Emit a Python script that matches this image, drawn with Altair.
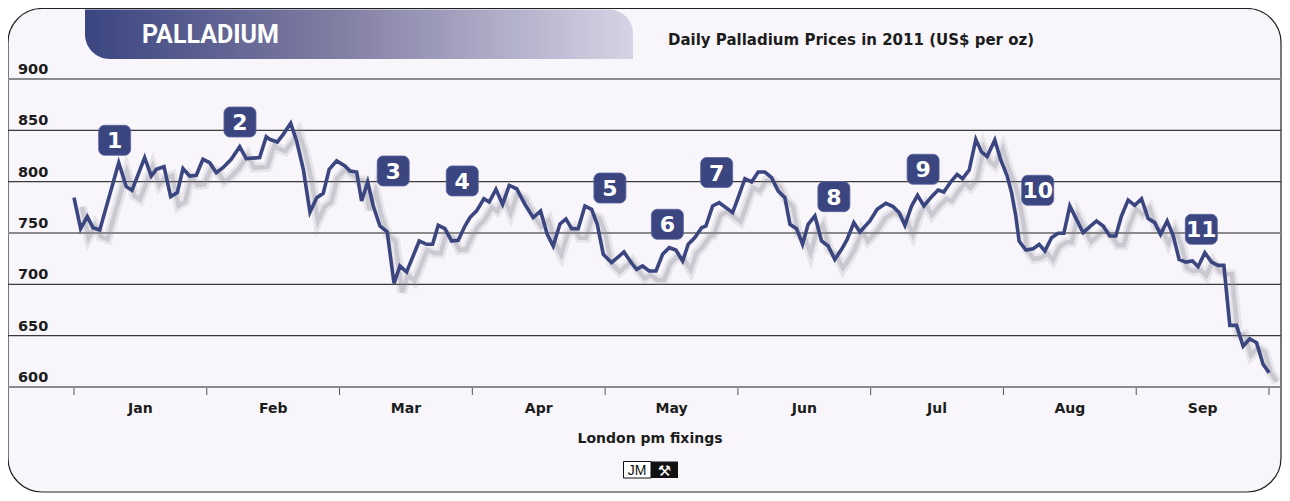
import altair as alt
import pandas as pd

# ---------------- data ----------------
month_names = ["Jan", "Feb", "Mar", "Apr", "May", "Jun", "Jul", "Aug", "Sep"]
month_edges = [0, 1, 2, 3, 4, 5, 6, 7, 8, 9]
month_mids = [0.5, 1.5, 2.5, 3.5, 4.5, 5.5, 6.5, 7.5, 8.5]
y_ticks = [600, 650, 700, 750, 800, 850, 900]
y_major = [600, 750, 900]
y_minor = [650, 700, 800, 850]

# position along the axis in months (0 = start of Jan, 9 = end of Sep)
pos = [0.000, 0.050, 0.100, 0.143, 0.194, 0.337, 0.394, 0.437, 0.532, 0.582,
       0.620, 0.678, 0.728, 0.778, 0.821, 0.871, 0.921, 0.971, 1.022, 1.072,
       1.122, 1.184, 1.248, 1.297, 1.398, 1.448,
       1.476, 1.531, 1.576, 1.632, 1.677, 1.727, 1.777, 1.828, 1.877, 1.922,
       1.978, 2.041, 2.078, 2.129, 2.166, 2.212, 2.254, 2.304, 2.359, 2.410,
       2.455, 2.505, 2.600, 2.656, 2.701, 2.743, 2.794, 2.844, 2.894, 2.944,
       2.982, 3.032, 3.087, 3.127, 3.178, 3.228, 3.278, 3.334, 3.396, 3.459,
       3.514, 3.564, 3.609, 3.660, 3.705, 3.748, 3.797, 3.848, 3.898, 3.941,
       3.986, 4.049, 4.142, 4.200, 4.237, 4.282, 4.332, 4.383, 4.433, 4.483,
       4.533, 4.584, 4.626, 4.676, 4.727, 4.759, 4.810, 4.859, 4.910, 4.960,
       5.002, 5.053, 5.103, 5.153, 5.203, 5.254, 5.303, 5.354, 5.392, 5.442,
       5.487, 5.529, 5.580, 5.630, 5.680, 5.730, 5.781, 5.823, 5.873, 5.919,
       5.994, 6.049, 6.114, 6.169, 6.215, 6.258, 6.308, 6.353, 6.401, 6.459,
       6.508, 6.551, 6.602, 6.651, 6.692, 6.742, 6.792, 6.835, 6.877, 6.935,
       6.978, 7.028, 7.061, 7.093, 7.118, 7.169, 7.224, 7.269, 7.312, 7.362,
       7.412, 7.455,
       7.500, 7.550, 7.600, 7.651, 7.701, 7.751, 7.801, 7.846, 7.889, 7.939,
       7.989, 8.040, 8.090, 8.140, 8.183, 8.233, 8.278, 8.323, 8.373, 8.424,
       8.466, 8.517, 8.567, 8.617, 8.660, 8.705, 8.755, 8.805, 8.855, 8.906,
       8.956, 9.001]

price = [784.4, 754.2, 765.9, 755.2, 752.9, 818.5, 795.1, 791.6, 823.4, 805.5,
         812.0, 814.6, 785.4, 789.3, 812.7, 805.5, 806.2, 821.8, 818.5, 808.8,
         813.6, 821.8, 834.1, 822.4, 823.4, 843.8,
         841.2, 838.6, 846.1, 856.8, 839.6, 812.0, 770.4, 784.4, 788.6, 812.0,
         820.2, 815.3, 810.4, 809.4, 781.2, 799.7, 776.3, 756.8, 751.0, 701.0,
         717.9, 712.0, 742.2, 739.0, 739.0, 757.5, 754.3, 742.2, 742.9, 756.8,
         765.0, 771.6, 783.4, 780.2, 792.5, 777.9, 796.4, 793.1, 777.9, 765.0,
         771.4, 748.7, 737.3, 758.8, 763.7, 754.2, 754.2, 776.3, 773.1, 758.5,
         729.2, 721.1, 731.5, 720.5, 714.6, 717.9, 713.0, 713.0, 729.2, 735.7,
         733.4, 722.7, 739.0, 745.5, 755.2, 756.8, 776.3, 779.5, 774.7, 769.8,
         784.4, 802.9, 799.7, 809.4, 809.4, 803.9, 790.9, 784.4, 758.4, 754.2,
         739.0, 758.4, 766.6, 742.2, 737.3, 724.3, 734.1, 743.8, 760.1, 751.0,
         761.7, 773.1, 778.9, 775.7, 769.8, 757.5, 776.3, 786.7, 776.3, 785.4,
         791.9, 789.9, 799.7, 807.1, 802.9, 811.3, 841.2, 828.9, 824.4, 840.6,
         821.8, 805.5, 789.3, 766.6, 742.2, 733.4, 734.7, 738.9, 732.5, 745.5,
         749.7, 749.7,
         776.3, 763.3, 750.3, 756.2, 761.7, 756.8, 747.1, 747.1, 766.6, 782.1,
         776.9, 783.4, 764.0, 760.1, 748.7, 761.7, 747.7, 724.3, 721.7, 722.7,
         717.2, 730.8, 721.7, 718.5, 718.5, 660.0, 660.0, 639.8, 647.0, 643.1,
         622.0, 613.9]

badge_labels = ["1", "2", "3", "4", "5", "6", "7", "8", "9", "10", "11"]
badge_pos = [0.306, 1.250, 2.404, 2.924, 4.036, 4.469, 4.840, 5.723, 6.395, 7.258, 8.490]
badge_price = [840.3, 858.1, 810.4, 800.7, 793.8, 758.5, 808.9, 785.4, 812.1, 791.6, 753.6]

assert len(pos) == len(price)

# ---------------- layout ----------------
W, H = 1274, 485
xs = alt.Scale(domain=[0, 9], range=[66, 1261])
ys = alt.Scale(domain=[600, 900], range=[379, 71])
NAVY = "#3b4680"
FONT = "DejaVu Sans"

one = pd.DataFrame({"a": [0]})
df = pd.DataFrame({"m": pos, "p": price})
badges = pd.DataFrame({"bx": badge_pos, "by": badge_price, "t": badge_labels})

frame = alt.Chart(one).mark_rect(
    fill="#f8f6fa", stroke="#222222", strokeWidth=1.2, cornerRadius=34
).encode(x=alt.value(0), x2=alt.value(1273), y=alt.value(0.5), y2=alt.value(484))

banner = alt.Chart(one).mark_rect(
    fill=alt.Gradient(
        gradient="linear",
        stops=[alt.GradientStop(color="#3a4580", offset=0),
               alt.GradientStop(color="#7f7ca2", offset=0.45),
               alt.GradientStop(color="#d5d4e5", offset=1)],
        x1=0, x2=1, y1=0, y2=0),
    cornerRadiusBottomLeft=26, cornerRadiusTopRight=24
).encode(x=alt.value(77), x2=alt.value(625), y=alt.value(1.5), y2=alt.value(51))

title = alt.Chart(one).mark_text(
    text="PALLADIUM", font="Roboto", fontWeight="bold", fontSize=25,
    color="white", align="left", baseline="middle"
).encode(x=alt.value(134), y=alt.value(27))

subtitle = alt.Chart(one).mark_text(
    text="Daily Palladium Prices in 2011 (US$ per oz)", font=FONT,
    fontWeight="bold", fontSize=15, color="#1c1c1c", align="left",
    baseline="middle"
).encode(x=alt.value(660), y=alt.value(32))

grid_minor = alt.Chart(pd.DataFrame({"v": y_minor})).mark_rule(
    color="#3a3a3a", strokeWidth=1.2
).encode(y=alt.Y("v:Q", scale=ys), x=alt.value(0), x2=alt.value(1273))

grid_major = alt.Chart(pd.DataFrame({"v": y_major})).mark_rule(
    color="#8a8a8a", strokeWidth=2.2
).encode(y=alt.Y("v:Q", scale=ys), x=alt.value(0), x2=alt.value(1273))

ylabels = alt.Chart(pd.DataFrame({"v": y_ticks})).mark_text(
    font=FONT, fontWeight="bold", fontSize=14.5, color="#1c1c1c",
    align="left", baseline="alphabetic", dy=-5
).encode(y=alt.Y("v:Q", scale=ys), x=alt.value(10), text=alt.Text("v:Q"))

ticks = alt.Chart(pd.DataFrame({"e": month_edges})).mark_rule(
    color="#555555", strokeWidth=1
).encode(x=alt.X("e:Q", scale=xs), y=alt.value(380), y2=alt.value(387))

mlabels = alt.Chart(pd.DataFrame({"c": month_mids, "n": month_names})).mark_text(
    font=FONT, fontWeight="bold", fontSize=14, color="#1c1c1c", baseline="middle"
).encode(x=alt.X("c:Q", scale=xs), y=alt.value(401), text="n:N")

xtitle = alt.Chart(one).mark_text(
    text="London pm fixings", font=FONT, fontWeight="bold", fontSize=14,
    color="#1c1c1c", baseline="middle"
).encode(x=alt.value(642), y=alt.value(431))

logo_box = alt.Chart(one).mark_rect(
    fill="white", stroke="#111111", strokeWidth=1
).encode(x=alt.value(615.5), x2=alt.value(643), y=alt.value(453.5), y2=alt.value(470))
logo_txt = alt.Chart(one).mark_text(
    text="JM", font="Liberation Sans", fontSize=14, color="#111111", baseline="middle"
).encode(x=alt.value(629), y=alt.value(462.5))
logo_dark = alt.Chart(one).mark_rect(fill="#111111").encode(
    x=alt.value(643), x2=alt.value(670), y=alt.value(453.5), y2=alt.value(470))
logo_sym = alt.Chart(one).mark_text(
    text="\u2692", font=FONT, fontSize=15, color="white", baseline="middle"
).encode(x=alt.value(656.5), y=alt.value(462.5))

shadow1 = alt.Chart(df).mark_line(
    color="#8c8c99", strokeWidth=10, opacity=0.16, xOffset=8, yOffset=9
).encode(x=alt.X("m:Q", scale=xs), y=alt.Y("p:Q", scale=ys), order="m:Q")
shadow2 = alt.Chart(df).mark_line(
    color="#80808f", strokeWidth=4.5, opacity=0.28, xOffset=8, yOffset=9
).encode(x=alt.X("m:Q", scale=xs), y=alt.Y("p:Q", scale=ys), order="m:Q")

line = alt.Chart(df).mark_line(color=NAVY, strokeWidth=3.6).encode(
    x=alt.X("m:Q", scale=xs), y=alt.Y("p:Q", scale=ys), order="m:Q")

badge_rect = alt.Chart(badges).transform_calculate(
    x1="datum.bx - 0.1205", x2="datum.bx + 0.1205",
    y1="datum.by - 14.6", y2="datum.by + 14.6"
).mark_rect(fill=NAVY, cornerRadius=6, stroke="#5a64a0", strokeWidth=0.8).encode(
    x=alt.X("x1:Q", scale=xs), x2="x2:Q",
    y=alt.Y("y1:Q", scale=ys), y2="y2:Q")

badge_txt = alt.Chart(badges).mark_text(
    font=FONT, fontWeight="bold", fontSize=22, color="white", baseline="middle", dy=1
).encode(x=alt.X("bx:Q", scale=xs), y=alt.Y("by:Q", scale=ys), text="t:N")

chart = alt.layer(
    frame, banner, title, subtitle, grid_minor, grid_major, ylabels, ticks,
    mlabels, xtitle, logo_box, logo_txt, logo_dark, logo_sym,
    shadow1, shadow2, line, badge_rect, badge_txt
).properties(
    width=W, height=H, padding=0, autosize=alt.AutoSizeParams(type="none"),
    background="white"
).configure_view(strokeWidth=0).configure_axis(disable=True)

chart.save("out.html", embed_options={"renderer": "svg", "actions": False})
